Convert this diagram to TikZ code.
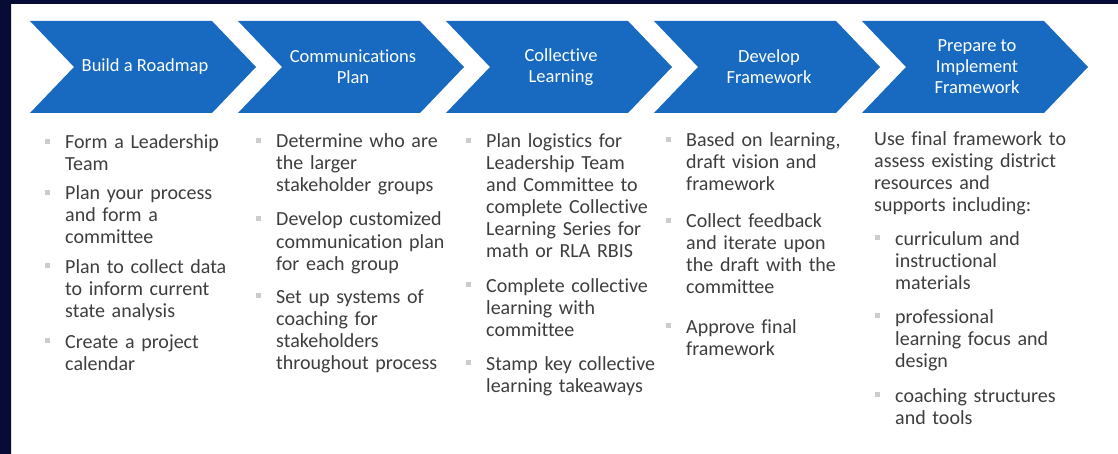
\documentclass[tikz,border=0pt]{standalone}
\usepackage{fontspec}
\setmainfont{Carlito}[Ligatures=NoCommon]
\usepackage{tikz}
\definecolor{chevblue}{RGB}{24,106,192}
\definecolor{slidenavy}{RGB}{6,12,52}
\definecolor{navymid}{RGB}{22,40,112}
\definecolor{bodygray}{RGB}{62,62,62}

\begin{document}
\begin{tikzpicture}[x=1pt,y=-1pt,
  chev/.style={fill=chevblue},
  chevtext/.style={text=white,align=center,inner sep=0pt,font=\fontsize{18.5}{21}\selectfont},
  itemtext/.style={anchor=base west,align=left,text width=210pt,inner sep=0pt,text=bodygray,font=\fontsize{20}{22}\selectfont},
  sq/.style={fill=gray!40,minimum size=4.5pt,inner sep=0pt}]
\useasboundingbox (0,0) rectangle (1118,454);
\fill[white] (0,0) rectangle (1118,454);
\fill[slidenavy] (0,0) rectangle (1118,4);
\shade[top color=slidenavy,middle color=navymid,bottom color=slidenavy] (0,0) rectangle (11,454);
% process steps
\foreach \n/\x/\lab in {roadmap/30/{Build a Roadmap},comms/238/{Communications\\Plan},learning/446/{Collective\\Learning},develop/654/{Develop\\Framework},prepare/862/{Prepare to\\Implement\\Framework}}{
  \fill[chev] (\x,21) -- ++(182,0) -- ++(44,46) -- ++(-44,46) -- ++(-182,0) -- ++(44,-46) -- cycle;
  \node[chevtext] (\n) at (\x+115,67) {\lab};
}
% bulleted items under the steps
\foreach \n/\x/\y/\t in {
  c1a/65/149/{Form a Leadership\\Team},
  c1b/65/200/{Plan your process\\and form a\\committee},
  c1c/65/273/{Plan to collect data\\to inform current\\state analysis},
  c1d/65/348/{Create a project\\calendar},
  c2a/276/148/{Determine who are\\the larger\\stakeholder groups},
  c2b/276/226/{Develop customized\\communication plan\\for each group},
  c2c/276/303/{Set up systems of\\coaching for\\stakeholders\\throughout process},
  c3a/486/148/{Plan logistics for\\Leadership Team\\and Committee to\\complete Collective\\Learning Series for\\math or RLA RBIS},
  c3b/486/292/{Complete collective\\learning with\\committee},
  c3c/486/370/{Stamp key collective\\learning takeaways},
  c4a/686/147/{Based on learning,\\draft vision and\\framework},
  c4b/686/228/{Collect feedback\\and iterate upon\\the draft with the\\committee},
  c4c/686/333/{Approve final\\framework},
  c5a/895/245/{curriculum and\\instructional\\materials},
  c5b/895/323/{professional\\learning focus and\\design},
  c5c/895/402/{coaching structures\\and tools}}{
  \node[itemtext] (\n) at (\x,\y) {\t};
  \node[sq] (\n-dot) at (\x-17.5,\y-7.5) {};
}
\node[itemtext] (c5) at (874,146) {Use final framework to\\assess existing district\\resources and\\supports including:};
\end{tikzpicture}
\end{document}
